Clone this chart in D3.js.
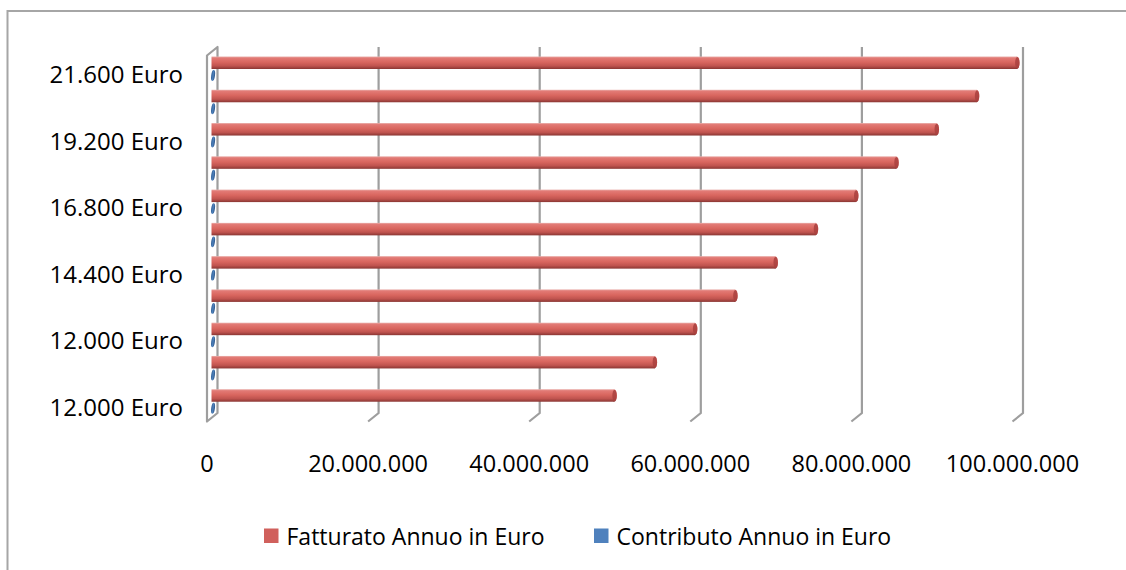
<!DOCTYPE html>
<html>
<head>
<meta charset="utf-8">
<script src="https://cdn.jsdelivr.net/npm/d3@7"></script>
<style>
html,body{margin:0;padding:0;background:#fff;}
svg{display:block;}
text{font-family:"Open Sans",sans-serif;fill:#000;}
</style>
</head>
<body>
<svg id="chart" width="1126" height="570"></svg>
<script>
const categories = ["12.000 Euro","12.000 Euro","12.000 Euro","13.200 Euro","14.400 Euro","15.600 Euro","16.800 Euro","18.000 Euro","19.200 Euro","20.400 Euro","21.600 Euro"];
const fatturato = [50000000,55000000,60000000,65000000,70000000,75000000,80000000,85000000,90000000,95000000,100000000];
const contributo = [12000,12000,12000,13200,14400,15600,16800,18000,19200,20400,21600];
const xTicks = [0,20000000,40000000,60000000,80000000,100000000];
const xTickLabels = ["0","20.000.000","40.000.000","60.000.000","80.000.000","100.000.000"];
const seriesNames = ["Fatturato Annuo in Euro","Contributo Annuo in Euro"];
const seriesColors = ["#d0605c","#4f81bd"];

const svg = d3.select("#chart");
const defs = svg.append("defs");

const gRed = defs.append("linearGradient").attr("id","gRed").attr("x1",0).attr("y1",0).attr("x2",0).attr("y2",1);
[["0%","#eab0ac"],["12%","#e27a75"],["45%","#d9665f"],["75%","#c0544f"],["100%","#8a3633"]].forEach(s=>gRed.append("stop").attr("offset",s[0]).attr("stop-color",s[1]));
const gBlue = defs.append("linearGradient").attr("id","gBlue").attr("x1",0).attr("y1",0).attr("x2",1).attr("y2",0);
[["0%","#2f5e94"],["50%","#4f82bd"],["100%","#2a5283"]].forEach(s=>gBlue.append("stop").attr("offset",s[0]).attr("stop-color",s[1]));

// frame
svg.append("path").attr("d","M7.5,570 V11 H1126").attr("fill","none").attr("stroke","#a6a6a6").attr("stroke-width",2);

const x = d3.scaleLinear().domain([0,100000000]).range([217.5,1023]);
const y = d3.scaleBand().domain(d3.range(categories.length)).range([418,52]);
const depthX = -10.5, depthY = 8.5;
const topY = 47, floorY = 413;

// gridlines with floor diagonal
const grid = svg.append("g");
xTicks.forEach((t,i)=>{
  const xb = x(t);
  if(i===0){
    grid.append("path")
      .attr("d",`M${xb+depthX},${floorY+depthY} V${topY+depthY} L${xb},${topY} V${floorY} Z`)
      .attr("fill","#fff").attr("stroke","#9e9e9e").attr("stroke-width",2.2).attr("stroke-linejoin","round");
  } else {
    grid.append("path")
      .attr("d",`M${xb},${topY} V${floorY} L${xb+depthX},${floorY+depthY}`)
      .attr("fill","none").attr("stroke","#9e9e9e").attr("stroke-width",2.2);
  }
});

// x labels
svg.append("g").selectAll("text").data(xTicks).join("text")
  .attr("x",(d)=>x(d)+depthX).attr("y",472)
  .attr("text-anchor","middle").attr("font-size",23.5)
  .text((d,i)=>xTickLabels[i]);

// y labels (every other)
svg.append("g").selectAll("text").data(d3.range(categories.length).filter(i=>i%2===0)).join("text")
  .attr("x",183).attr("y",i=>y(i)+y.bandwidth()/2+14.5)
  .attr("text-anchor","end").attr("font-size",24)
  .text(i=>categories[i]);

const barShift = -6;
const bh = 12.5;
// red cylinders
const red = svg.append("g");
fatturato.forEach((v,i)=>{
  const x0 = x(0)+barShift, x1 = x(v)+barShift;
  const yy = y(i)+4.5;
  red.append("rect").attr("x",x0).attr("y",yy).attr("width",x1-x0).attr("height",bh).attr("fill","url(#gRed)");
  red.append("ellipse").attr("cx",x1).attr("cy",yy+bh/2).attr("rx",2.6).attr("ry",bh/2).attr("fill","url(#gRed)");
  red.append("ellipse").attr("cx",x1+0.3).attr("cy",yy+bh/2).attr("rx",2.2).attr("ry",bh/2-0.6).attr("fill","#a9413e").attr("opacity",0.85);
});

// blue (tiny) cylinders
const blue = svg.append("g");
contributo.forEach((v,i)=>{
  const x0 = x(0)+barShift+1, x1 = x(v)+barShift+1;
  const cy = y(i)+23.5;
  blue.append("ellipse").attr("cx",(x0+x1)/2+0.5).attr("cy",cy).attr("rx",1.8+(x1-x0)/2).attr("ry",5.5)
    .attr("transform",`rotate(8,${(x0+x1)/2+0.5},${cy})`).attr("fill","url(#gBlue)");
});

// legend
const legend = svg.append("g");
const legX = [264,594];
seriesNames.forEach((n,i)=>{
  legend.append("rect").attr("x",legX[i]).attr("y",528.5).attr("width",14.5).attr("height",14.5).attr("fill",seriesColors[i]);
  legend.append("text").attr("x",legX[i]+22.5).attr("y",545).attr("font-size",23).text(n);
});
</script>
</body>
</html>
